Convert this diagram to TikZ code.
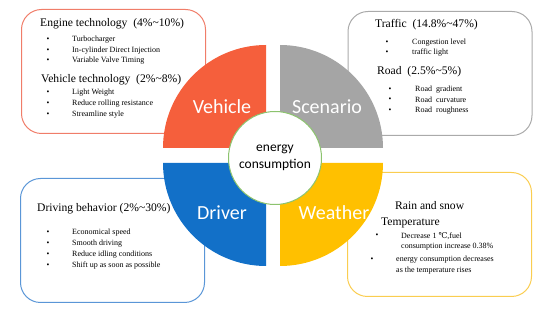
\documentclass[tikz,border=0pt]{standalone}
\usepackage{fontspec}
\setmainfont{Liberation Serif}
\newfontfamily\carlito{Carlito}
\newfontfamily\dejavuserif{DejaVu Serif}
\usepackage{tikz}

\definecolor{vehred}{RGB}{245,95,60}
\definecolor{scngray}{RGB}{165,165,165}
\definecolor{drvblue}{RGB}{18,112,200}
\definecolor{wthyellow}{RGB}{255,192,0}
\definecolor{vehline}{RGB}{240,125,105}
\definecolor{scnline}{RGB}{170,170,170}
\definecolor{drvline}{RGB}{90,150,215}
\definecolor{wthline}{RGB}{250,205,80}
\definecolor{ringgreen}{RGB}{140,195,110}

\begin{document}
\begin{tikzpicture}[x=1pt, y=1pt,
  infobox/.style={draw=#1, line width=1pt, rounded corners=20pt,
    minimum width=184pt, minimum height=124pt, inner sep=0pt},
  head/.style={anchor=west, inner sep=0pt, font=\fontsize{11.6}{14}\selectfont},
  item/.style={anchor=west, inner sep=0pt, font=\fontsize{8}{9.5}\selectfont},
  dot/.style={inner sep=0pt, font=\fontsize{8}{9.5}\selectfont},
  quadlabel/.style={text=white, inner sep=0pt, font=\carlito\fontsize{20}{22}\selectfont}]
\useasboundingbox (0,0) rectangle (550,311);
% boxes
\node[infobox=vehline] (vehbox) at (113.5,239.5) {};
\node[infobox=scnline] (scnbox) at (440,237.5) {};
\node[infobox=drvline] (drvbox) at (112.5,70.5) {};
\node[infobox=wthline] (wthbox) at (439.5,76.5) {};
% Vehicle
\node[head] (engine) at (40,287) {Engine technology\ \ (4\%\textasciitilde10\%)};
\node[dot] (b1) at (48,271) {\textbullet};
\node[item] (turbo) at (72,271) {Turbocharger};
\node[dot] (b2) at (48,260) {\textbullet};
\node[item] (direct) at (72,260) {In-cylinder Direct Injection};
\node[dot] (b3) at (48,250) {\textbullet};
\node[item] (valve) at (72,250) {Variable Valve Timing};
\node[head] (vehtech) at (41,231) {Vehicle technology\ \ (2\%\textasciitilde8\%)};
\node[dot] (b4) at (48,218) {\textbullet};
\node[item] (light) at (72,218) {Light Weight};
\node[dot] (b5) at (48,207) {\textbullet};
\node[item] (rolling) at (72,207) {Reduce rolling resistance};
\node[dot] (b6) at (48,196) {\textbullet};
\node[item] (stream) at (72,196) {Streamline style};
% Scenario
\node[head] (traffic) at (375,286) {Traffic\ \ (14.8\%\textasciitilde47\%)};
\node[dot] (b7) at (387,268) {\textbullet};
\node[item] (congest) at (412,268) {Congestion level};
\node[dot] (b8) at (387,258) {\textbullet};
\node[item] (tlight) at (412,258) {traffic light};
\node[head] (road) at (377,239) {Road\ \ (2.5\%\textasciitilde5\%)};
\node[dot] (b9) at (390,221) {\textbullet};
\node[item] (gradient) at (415,221) {Road\ \ gradient};
\node[dot] (b10) at (390,211) {\textbullet};
\node[item] (curv) at (415,211) {Road\ \ curvature};
\node[dot] (b11) at (390,200) {\textbullet};
\node[item] (rough) at (415,200) {Road\ \ roughness};
% Driver
\node[head] (behav) at (37,102) {Driving behavior (2\%\textasciitilde30\%)};
\node[dot] (b12) at (48,78) {\textbullet};
\node[item] (econ) at (72,78) {Economical speed};
\node[dot] (b13) at (48,67) {\textbullet};
\node[item] (smooth) at (72,67) {Smooth driving};
\node[dot] (b14) at (48,56) {\textbullet};
\node[item] (idle) at (72,56) {Reduce idling conditions};
\node[dot] (b15) at (48,45) {\textbullet};
\node[item] (shift) at (72,45) {Shift up as soon as possible};
% Weather
\node[head] (rain) at (395,105) {Rain and snow};
\node[head] (temp) at (381,88) {Temperature};
\node[dot] (b16) at (377,75) {\textbullet};
\node[item] (decr) at (401,75) {Decrease 1 {\dejavuserif ℃},fuel};
\node[item] (incr) at (401,64) {consumption increase 0.38\%};
\node[dot] (b17) at (372,51) {\textbullet};
\node[item] (energy1) at (396,51) {energy consumption decreases};
\node[item] (energy2) at (396,40) {as the temperature rises};
% quadrants
\fill[vehred] (266,163) -- (163,163) arc[start angle=180, end angle=90, radius=103] -- cycle;
\fill[scngray] (280,163) -- (280,266) arc[start angle=90, end angle=0, radius=103] -- cycle;
\fill[drvblue] (266,148) -- (266,45) arc[start angle=270, end angle=180, radius=103] -- cycle;
\fill[wthyellow] (280,148) -- (383,148) arc[start angle=0, end angle=-90, radius=103] -- cycle;
\node[quadlabel] (vehicle) at (222,204) {Vehicle};
\node[quadlabel] (scenario) at (327,204) {Scenario};
\node[quadlabel] (driver) at (222,98) {Driver};
\node[quadlabel] (weather) at (334,98) {Weather};
% centre
\node[circle, draw=ringgreen, fill=white, line width=1pt, minimum size=93pt, inner sep=0pt,
  align=center, font=\carlito\fontsize{13.5}{17}\selectfont] (energy) at (275,153) {energy\\consumption};
\end{tikzpicture}
\end{document}
